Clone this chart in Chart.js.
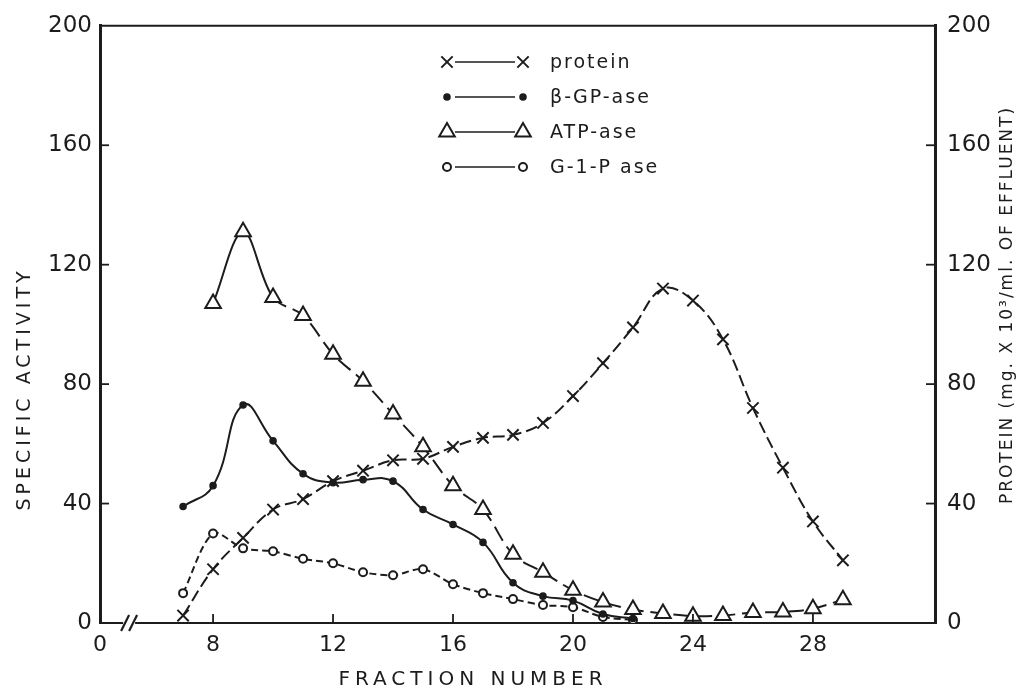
<!DOCTYPE html>
<html>
<head>
<meta charset="utf-8">
<script src="https://cdn.jsdelivr.net/npm/chart.js@4.4.1/dist/chart.umd.min.js"></script>
<style>
  html, body { margin: 0; padding: 0; background: #fff; }
  #wrap { width: 1027px; height: 697px; }
</style>
</head>
<body>
<div id="wrap"><canvas id="chart" width="1027" height="697"></canvas></div>
<script>
// Elution profile: specific activities (left axis) and protein (right axis) per fraction
const proteinFractions = [7, 8, 9, 10, 11, 12, 13, 14, 15, 16, 17, 18, 19, 20, 21, 22, 23, 24, 25, 26, 27, 28, 29]
const proteinValues = [2.5, 18, 28.5, 38, 41.5, 47.5, 51, 54.5, 55, 59, 62, 63, 67, 76, 87, 99, 112, 108, 95, 72, 52, 34, 21]

const atpFractions = [8, 9, 10, 11, 12, 13, 14, 15, 16, 17, 18, 19, 20, 21, 22, 23, 24, 25, 26, 27, 28, 29]
const atpValues = [107, 131, 109, 103, 90, 81, 70, 59, 46, 38, 23, 17, 11, 7, 4.5, 3.2, 2.3, 2.5, 3.5, 3.7, 4.8, 7.8]

const bgpFractions = [7, 8, 9, 10, 11, 12, 13, 14, 15, 16, 17, 18, 19, 20, 21, 22]
const bgpValues = [39, 46, 73, 61, 50, 47, 48, 47.5, 38, 33, 27, 13.5, 9, 7.5, 3, 1.5]

const g1pFractions = [7, 8, 9, 10, 11, 12, 13, 14, 15, 16, 17, 18, 19, 20, 21, 22]
const g1pValues = [10, 30, 25, 24, 21.5, 20, 17, 16, 18, 13, 10, 8, 6, 5.3, 2, 1]

const xTicks = [4.23, 8, 12, 16, 20, 24, 28]
const yTicks = [0, 40, 80, 120, 160, 200]

const INK = "#1c1c1c"
const FONT = "'DejaVu Sans', sans-serif"

const toPoints = (xs, ys) => xs.map((x, i) => ({ x, y: ys[i] }))

const LEGEND = [
  { label: "protein", style: "crossRot", radius: 8, fill: false },
  { label: "\u03B2-GP-ase", style: "circle", radius: 2.8, fill: true },
  { label: "ATP-ase", style: "triangle", radius: 9, fill: false },
  { label: "G-1-P ase", style: "circle", radius: 4, fill: false }
]

// frame top, inward ticks, axis break, titles and the boxed-in legend
const decor = {
  id: "decor",
  afterDraw(chart) {
    const { ctx, chartArea: a, scales } = chart
    ctx.save()
    ctx.strokeStyle = INK
    ctx.fillStyle = INK

    ctx.lineWidth = 2
    ctx.beginPath()
    ctx.moveTo(a.left, a.top)
    ctx.lineTo(a.right, a.top)
    ctx.stroke()

    ctx.lineWidth = 1.8
    yTicks.slice(1, -1).forEach(v => {
      const yl = scales.y.getPixelForValue(v)
      ctx.beginPath(); ctx.moveTo(a.left, yl); ctx.lineTo(a.left + 9, yl); ctx.stroke()
      const yr = scales.y2.getPixelForValue(v)
      ctx.beginPath(); ctx.moveTo(a.right, yr); ctx.lineTo(a.right - 9, yr); ctx.stroke()
    })
    xTicks.slice(1).forEach(v => {
      const xp = scales.x.getPixelForValue(v)
      ctx.beginPath(); ctx.moveTo(xp, a.bottom); ctx.lineTo(xp, a.bottom - 9); ctx.stroke()
    })

    // axis break "//"
    const bx = scales.x.getPixelForValue(5.2)
    ctx.fillStyle = "#fff"
    ctx.fillRect(bx - 6, a.bottom - 3, 12, 6)
    ctx.lineWidth = 2.2
    ;[-4, 4].forEach(d => {
      ctx.beginPath()
      ctx.moveTo(bx + d - 4, a.bottom + 8)
      ctx.lineTo(bx + d + 4, a.bottom - 8)
      ctx.stroke()
    })

    ctx.fillStyle = INK
    ctx.textAlign = "center"
    ctx.textBaseline = "middle"

    ctx.font = `19px ${FONT}`
    ctx.letterSpacing = "4px"
    ctx.save()
    ctx.translate(25, 389)
    ctx.rotate(-Math.PI / 2)
    ctx.fillText("SPECIFIC ACTIVITY", 0, 0)
    ctx.restore()

    ctx.font = `20px ${FONT}`
    ctx.letterSpacing = "5px"
    ctx.fillText("FRACTION NUMBER", 473, 680)

    ctx.font = `17px ${FONT}`
    ctx.letterSpacing = "2px"
    ctx.save()
    ctx.translate(1008, 305)
    ctx.rotate(-Math.PI / 2)
    ctx.fillText("PROTEIN (mg. X 10\u00B3/ml. OF EFFLUENT)", 0, 0)
    ctx.restore()

    // legend
    ctx.textAlign = "left"
    ctx.font = `19px ${FONT}`
    ctx.letterSpacing = "2px"
    LEGEND.forEach((item, i) => {
      const y = 62 + i * 35
      ctx.lineWidth = 1.5
      ctx.beginPath(); ctx.moveTo(455, y); ctx.lineTo(515, y); ctx.stroke()
      ;[447, 523].forEach(x => {
        ctx.fillStyle = item.fill ? INK : "#fff"
        ctx.lineWidth = 2
        Chart.helpers.drawPoint(ctx, { pointStyle: item.style, radius: item.radius, borderWidth: 2, rotation: 0 }, x, y)
      })
      ctx.fillStyle = INK
      ctx.fillText(item.label, 550, y + 1)
    })
    ctx.restore()
  }
}

const base = {
  borderColor: INK,
  pointBorderColor: INK,
  pointBorderWidth: 2,
  borderWidth: 2,
  fill: false
}

new Chart(document.getElementById("chart"), {
  type: "line",
  data: {
    datasets: [
      {
        ...base,
        label: "protein",
        yAxisID: "y2",
        data: toPoints(proteinFractions, proteinValues),
        borderDash: [12, 5],
        tension: 0.4,
        pointStyle: "crossRot",
        pointRadius: 8,
        pointBackgroundColor: INK
      },
      {
        ...base,
        label: "\u03B2-GP-ase",
        yAxisID: "y",
        data: toPoints(bgpFractions, bgpValues),
        tension: 0.45,
        pointStyle: "circle",
        pointRadius: 2.8,
        pointBackgroundColor: INK
      },
      {
        ...base,
        label: "G-1-P ase",
        yAxisID: "y",
        data: toPoints(g1pFractions, g1pValues),
        borderDash: [7, 4],
        tension: 0.3,
        pointStyle: "circle",
        pointRadius: 4,
        pointBackgroundColor: "#fff"
      },
      {
        ...base,
        label: "ATP-ase",
        yAxisID: "y",
        data: toPoints(atpFractions, atpValues),
        borderDash: [],
        segment: { borderDash: c => (c.p0DataIndex < 2 ? [] : [16, 7]) },
        tension: 0.35,
        pointStyle: "triangle",
        pointRadius: 9,
        pointBackgroundColor: "#fff"
      }
    ]
  },
  options: {
    responsive: false,
    animation: false,
    devicePixelRatio: 1,
    layout: { padding: { top: 21 } },
    plugins: { legend: { display: false }, tooltip: { enabled: false } },
    scales: {
      x: {
        type: "linear",
        min: 4.23,
        max: 32.07,
        afterBuildTicks: s => { s.ticks = xTicks.map(v => ({ value: v })) },
        afterFit: s => { s.height = 74 },
        grid: { display: false, drawTicks: false },
        border: { display: true, color: INK, width: 2 },
        ticks: {
          autoSkip: false,
          maxRotation: 0,
          padding: 9,
          color: INK,
          font: { family: FONT, size: 22 },
          callback: v => (v < 5 ? "0" : String(v))
        }
      },
      y: {
        position: "left",
        min: 0,
        max: 200,
        afterBuildTicks: s => { s.ticks = yTicks.map(v => ({ value: v })) },
        afterFit: s => { s.width = 100 },
        grid: { display: false, drawTicks: false },
        border: { display: true, color: INK, width: 3 },
        ticks: { padding: 8, color: INK, font: { family: FONT, size: 23 } }
      },
      y2: {
        position: "right",
        min: 0,
        max: 200,
        afterBuildTicks: s => { s.ticks = yTicks.map(v => ({ value: v })) },
        afterFit: s => { s.width = 92 },
        grid: { display: false, drawTicks: false },
        border: { display: true, color: INK, width: 3 },
        ticks: { padding: 12, color: INK, font: { family: FONT, size: 23 } }
      }
    }
  },
  plugins: [decor]
})
</script>
</body>
</html>
